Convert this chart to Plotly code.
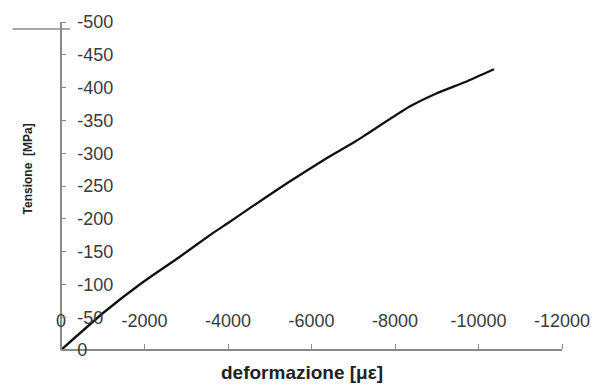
import plotly.graph_objects as go

strain = [0, -1000, -1910, -2820, -3610, -4010, -4400, -5430, -6380, -7050, -7250, -8350, -8990, -9700, -10370]
stress = [0, -56, -101, -141, -177, -194, -211, -255, -293, -318, -326, -371, -391, -409, -428]

x_ticks = [0, -2000, -4000, -6000, -8000, -10000, -12000]
y_ticks = [0, -50, -100, -150, -200, -250, -300, -350, -400, -450, -500]
x_title = "deformazione [\u03bc\u03b5]"
y_title = "Tensione  [MPa]"

FONT = "Liberation Sans, Arial, sans-serif"
AXIS_COLOR = "#8a8a8a"
TEXT_COLOR = "#3a3a3a"

fig = go.Figure()
fig.add_trace(go.Scatter(x=strain, y=stress, mode="lines",
                         line=dict(color="#111111", width=2.3, shape="spline", smoothing=0.4),
                         showlegend=False, hoverinfo="skip"))

fig.update_layout(
    width=602, height=387,
    margin=dict(l=61, r=35, t=20, b=37),
    paper_bgcolor="white", plot_bgcolor="white",
    font=dict(family=FONT, size=18, color=TEXT_COLOR),
    xaxis=dict(range=[0, -12000], tickvals=x_ticks, ticktext=[str(v) for v in x_ticks],
               side="top", anchor="free", position=0,
               showline=True, linecolor=AXIS_COLOR, linewidth=1.5,
               ticks="outside", ticklen=5, tickcolor=AXIS_COLOR, tickwidth=1,
               ticklabelstandoff=10,
               showgrid=False, zeroline=False,
               tickfont=dict(family=FONT, size=18, color=TEXT_COLOR)),
    yaxis=dict(range=[0, -500], tickvals=y_ticks, ticktext=[str(v) for v in y_ticks],
               side="right", anchor="free", position=0,
               showline=True, linecolor=AXIS_COLOR, linewidth=1.5,
               ticks="outside", ticklen=4, tickcolor=AXIS_COLOR, tickwidth=1,
               ticklabelstandoff=8,
               showgrid=False, zeroline=False,
               tickfont=dict(family=FONT, size=18, color=TEXT_COLOR)),
    annotations=[
        dict(text="<b>" + x_title + "</b>", xref="paper", yref="paper",
             x=(304 - 61) / 506, y=-(373 - 350) / 330, xanchor="center", yanchor="middle",
             showarrow=False, font=dict(family=FONT, size=19, color="#222222")),
        dict(text="<b>" + y_title + "</b>", xref="paper", yref="paper",
             x=-(61 - 28) / 506, y=(350 - 168) / 330, xanchor="center", yanchor="middle",
             textangle=-90, showarrow=False, font=dict(family=FONT, size=12, color="#222222")),
    ],
    shapes=[
        dict(type="line", xref="paper", yref="paper",
             x0=(12 - 61) / 506, x1=(70 - 61) / 506, y0=(350 - 27) / 330, y1=(350 - 27) / 330,
             line=dict(color=AXIS_COLOR, width=1.5)),
    ],
)

fig.write_html("out.html")
